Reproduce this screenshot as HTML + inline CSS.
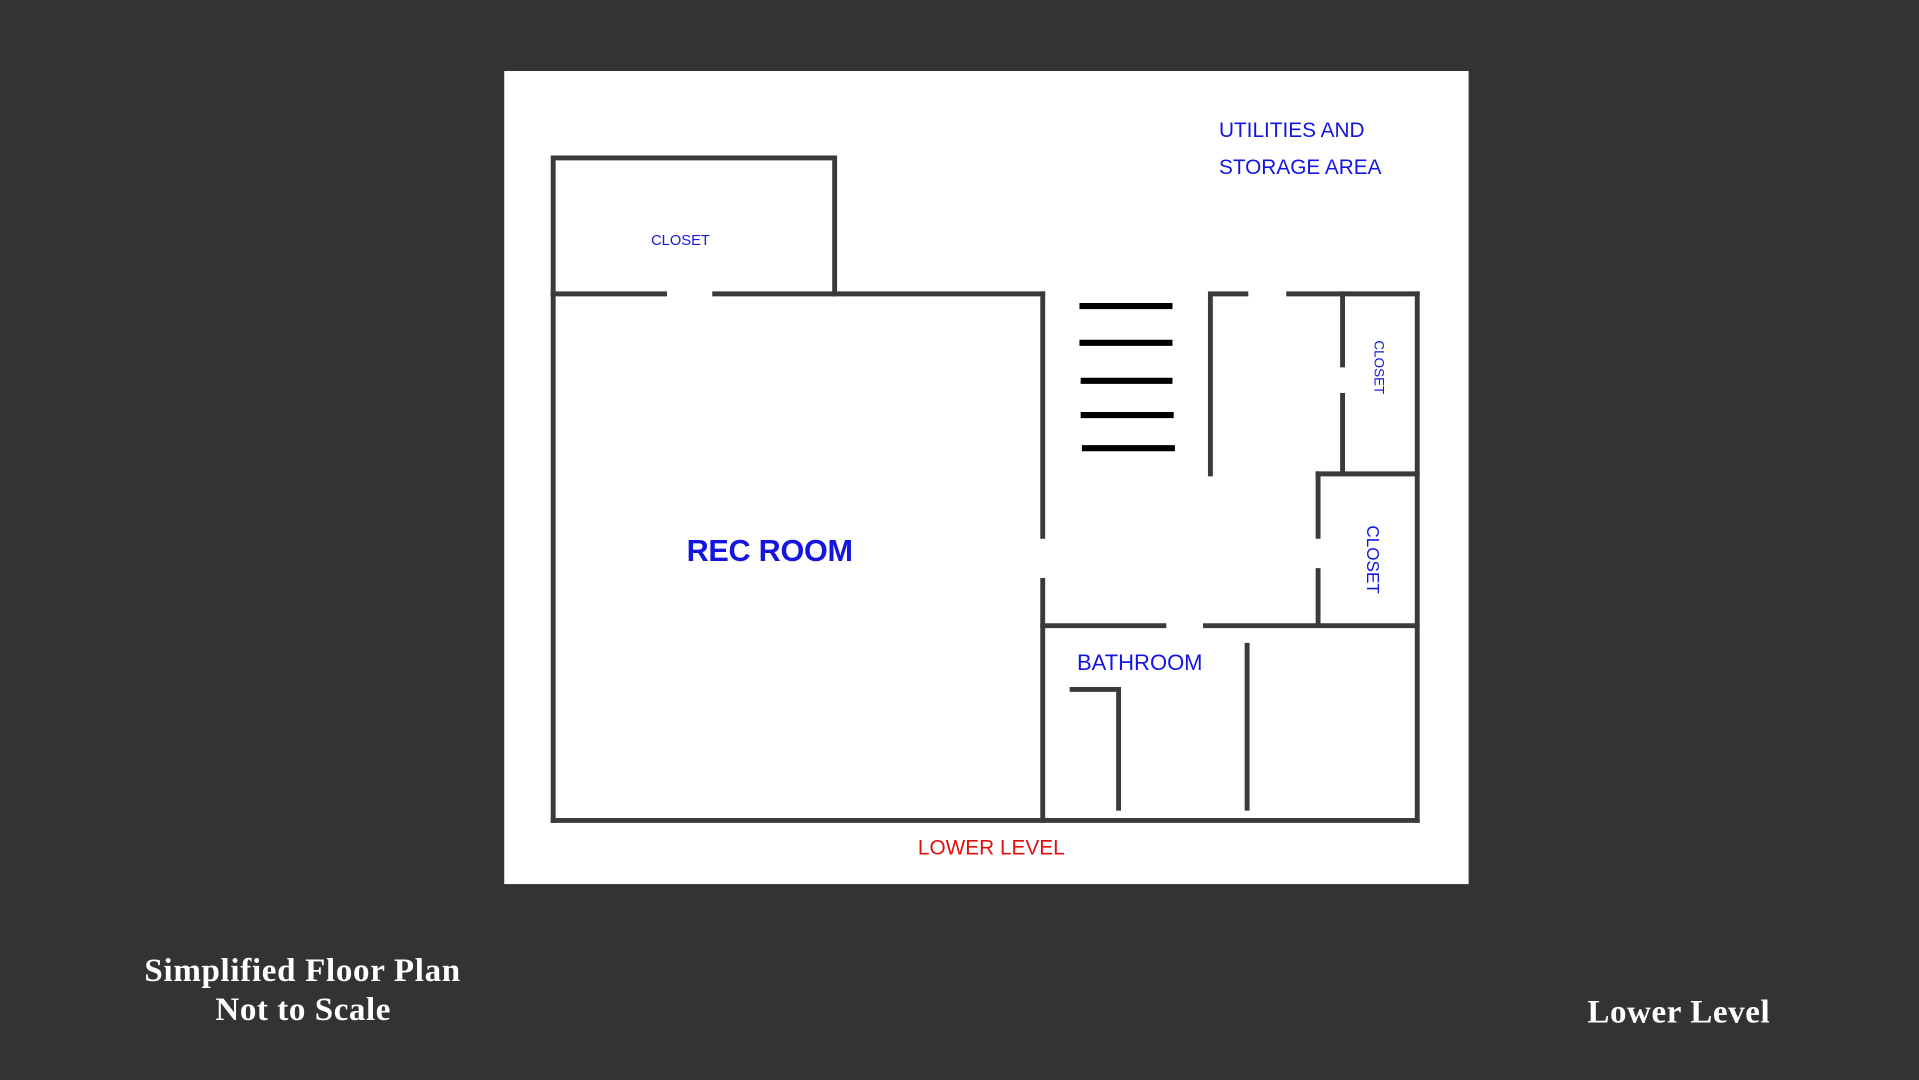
<!DOCTYPE html>
<html><head><meta charset="utf-8"><style>
html,body{margin:0;padding:0;background:#333;}
svg{display:block;}
</style></head><body>
<svg width="1919" height="1080" viewBox="0 0 1568 882" preserveAspectRatio="none" xmlns="http://www.w3.org/2000/svg">
<rect width="1568" height="882" fill="#333"/>
<rect x="412" y="58" width="788" height="664" fill="#fff"/>
<g stroke="#3a3a3a" stroke-width="4" fill="none" stroke-linecap="square">
<polyline points="452,240 452,129 682,129 682,240"/>
<line x1="452" y1="240" x2="543" y2="240"/>
<line x1="584" y1="240" x2="852" y2="240"/>
<line x1="452" y1="240" x2="452" y2="670"/>
<line x1="452" y1="670" x2="1158" y2="670"/>
<line x1="852" y1="240" x2="852" y2="438"/>
<line x1="852" y1="474" x2="852" y2="670"/>
<polyline points="1018,240 989,240 989,387"/>
<line x1="1053" y1="240" x2="1158" y2="240"/>
<line x1="1158" y1="240" x2="1158" y2="670"/>
<line x1="1097" y1="240" x2="1097" y2="298"/>
<line x1="1097" y1="323" x2="1097" y2="385"/>
<line x1="1077" y1="387" x2="1158" y2="387"/>
<line x1="1077" y1="387" x2="1077" y2="438"/>
<line x1="1077" y1="466" x2="1077" y2="510"/>
<line x1="852" y1="511" x2="951" y2="511"/>
<line x1="985" y1="511" x2="1158" y2="511"/>
<polyline points="876,563 914,563 914,660"/>
<line x1="1019" y1="527" x2="1019" y2="660"/>
</g>
<g stroke="#000" stroke-width="5">
<line x1="882" y1="250" x2="958" y2="250"/>
<line x1="882" y1="280" x2="958" y2="280"/>
<line x1="883" y1="311" x2="958" y2="311"/>
<line x1="883" y1="339" x2="959" y2="339"/>
<line x1="884" y1="366" x2="960" y2="366"/>
</g>
<g font-family="Liberation Sans, sans-serif" fill="#1515e0">
<text x="556" y="200" font-size="12" text-anchor="middle">CLOSET</text>
<text x="996" y="112" font-size="17">UTILITIES AND</text>
<text x="996" y="142" font-size="17">STORAGE AREA</text>
<text x="561" y="458" font-size="25" font-weight="bold" textLength="136">REC ROOM</text>
<text x="880" y="547" font-size="18">BATHROOM</text>
<text transform="translate(1123,300) rotate(90)" font-size="11" text-anchor="middle">CLOSET</text>
<text transform="translate(1117,457) rotate(90)" font-size="14" text-anchor="middle">CLOSET</text>
<text x="810" y="698" font-size="17" fill="#e01010" text-anchor="middle">LOWER LEVEL</text>
</g>
<g font-family="Liberation Serif, serif" font-weight="bold" fill="#fff" font-size="27">
<text x="118" y="801" textLength="258">Simplified Floor Plan</text>
<text x="176" y="833" textLength="143">Not to Scale</text>
<text x="1297" y="835" textLength="149">Lower Level</text>
</g>
</svg>
</body></html>
